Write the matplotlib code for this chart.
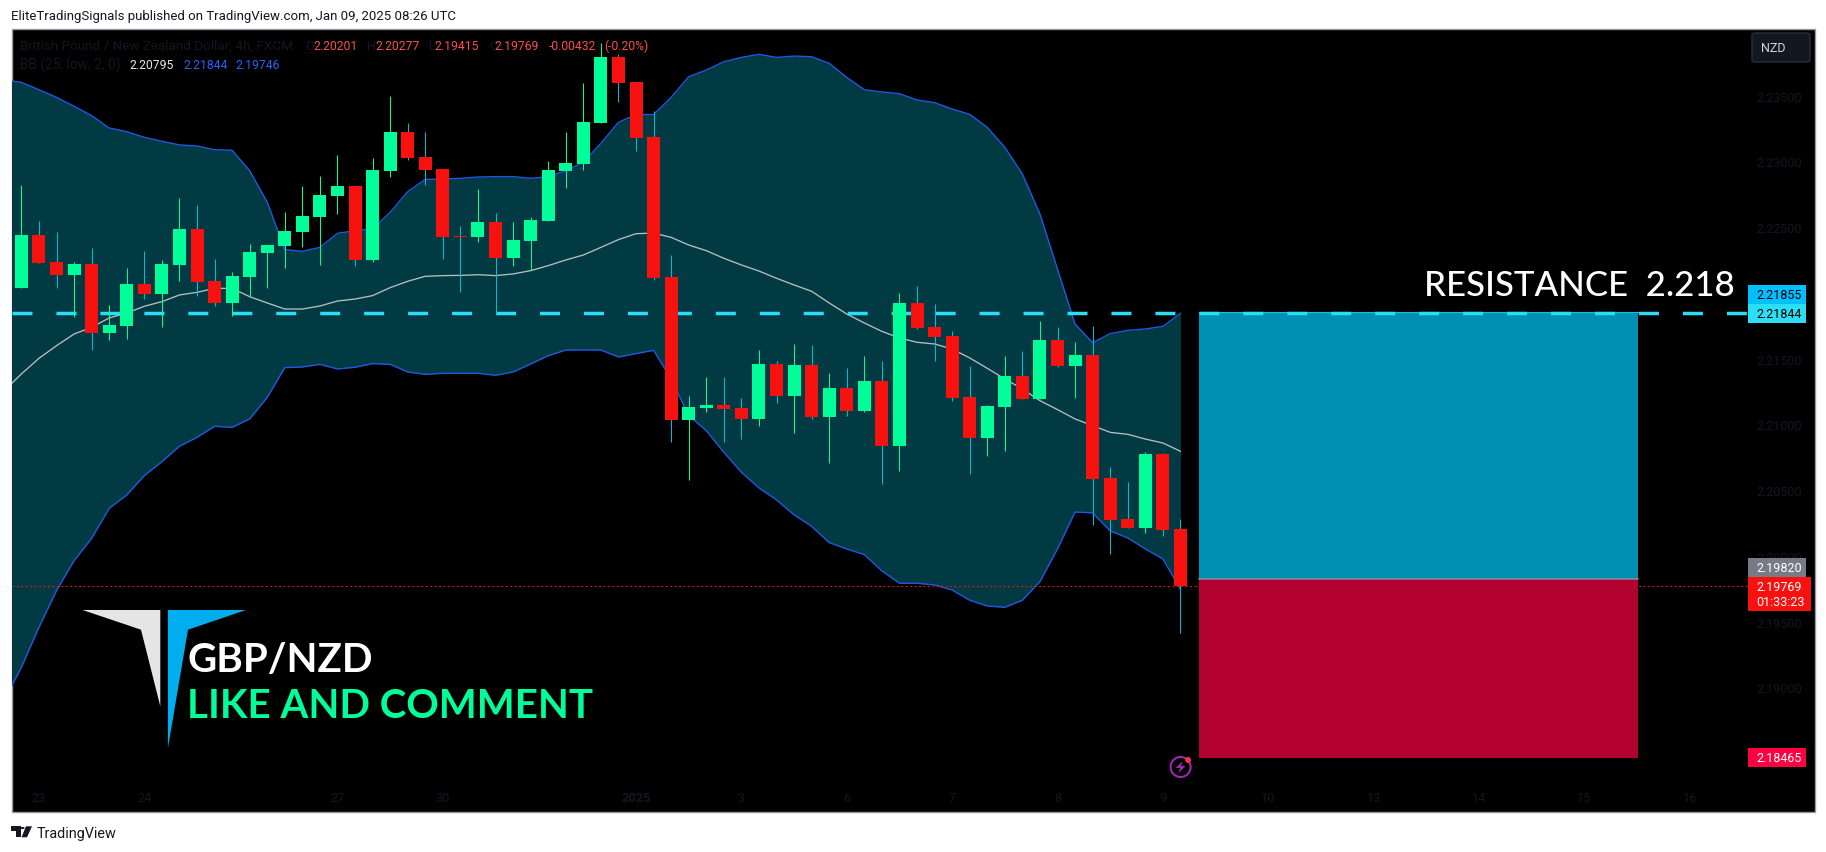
import numpy as np
import matplotlib
matplotlib.use('Agg')
import matplotlib.pyplot as plt
from matplotlib.patches import Rectangle, Polygon, Circle, FancyBboxPatch

W, H = 1826, 853

# 4h candles
opens = [2.22040, 2.22440, 2.22235, 2.22138, 2.22219, 2.21697, 2.21751, 2.22067, 2.21991, 2.22212,
         2.22486, 2.22090, 2.21925, 2.22123, 2.22303, 2.22356, 2.22463, 2.22577, 2.22737, 2.22813,
         2.22250, 2.22927, 2.23223, 2.23033, 2.22942, 2.22433, 2.22425, 2.22539, 2.22265, 2.22394,
         2.22547, 2.22927, 2.22980, 2.23292, 2.23794, 2.23604, 2.23185, 2.22121, 2.21033, 2.21124,
         2.21147, 2.21124, 2.21041, 2.21459, 2.21216, 2.21451, 2.21056, 2.21276, 2.21101, 2.21330,
         2.20835, 2.21923, 2.21740, 2.21672, 2.21208, 2.20896, 2.21132, 2.21368, 2.21193, 2.21642,
         2.21444, 2.21527, 2.20592, 2.20280, 2.20212, 2.20774, 2.20201]
highs = [2.22820, 2.22547, 2.22463, 2.22235, 2.22341, 2.21908, 2.22189, 2.22318, 2.22250, 2.22721,
         2.22668, 2.22258, 2.22159, 2.22372, 2.22364, 2.22615, 2.22813, 2.22889, 2.23049, 2.22813,
         2.23026, 2.23497, 2.23292, 2.23223, 2.22942, 2.22509, 2.22790, 2.22607, 2.22539, 2.22577,
         2.23003, 2.23223, 2.23596, 2.23900, 2.23817, 2.23604, 2.23383, 2.22288, 2.21216, 2.21360,
         2.21360, 2.21200, 2.21565, 2.21482, 2.21611, 2.21603, 2.21390, 2.21429, 2.21520, 2.21482,
         2.21999, 2.22052, 2.21915, 2.21710, 2.21444, 2.21147, 2.21520, 2.21558, 2.21786, 2.21740,
         2.21626, 2.21748, 2.20676, 2.20561, 2.20790, 2.20782, 2.20277]
lows = [2.22040, 2.22230, 2.22040, 2.21819, 2.21568, 2.21644, 2.21649, 2.21953, 2.21740, 2.22090,
        2.21976, 2.21900, 2.21827, 2.21976, 2.22037, 2.22189, 2.22349, 2.22212, 2.22600, 2.22204,
        2.22235, 2.22881, 2.23010, 2.22820, 2.22258, 2.22007, 2.22387, 2.21847, 2.22204, 2.22174,
        2.22547, 2.22798, 2.22934, 2.23292, 2.23452, 2.23079, 2.22098, 2.20866, 2.20577, 2.21094,
        2.20868, 2.20888, 2.20990, 2.21162, 2.20934, 2.21041, 2.20706, 2.21063, 2.21094, 2.20546,
        2.20645, 2.21725, 2.21482, 2.21178, 2.20622, 2.20759, 2.20797, 2.21193, 2.21193, 2.21436,
        2.21200, 2.20234, 2.20014, 2.20212, 2.20174, 2.20151, 2.19415]
closes = [2.22440, 2.22230, 2.22138, 2.22219, 2.21697, 2.21756, 2.22067, 2.21991, 2.22219, 2.22486,
          2.22085, 2.21925, 2.22128, 2.22311, 2.22364, 2.22471, 2.22585, 2.22744, 2.22813, 2.22250,
          2.22934, 2.23223, 2.23026, 2.22934, 2.22425, 2.22425, 2.22539, 2.22265, 2.22402, 2.22554,
          2.22934, 2.22988, 2.23300, 2.23794, 2.23596, 2.23178, 2.22113, 2.21033, 2.21132, 2.21147,
          2.21117, 2.21041, 2.21459, 2.21216, 2.21451, 2.21056, 2.21276, 2.21101, 2.21330, 2.20835,
          2.21923, 2.21733, 2.21664, 2.21200, 2.20896, 2.21140, 2.21368, 2.21193, 2.21642, 2.21444,
          2.21527, 2.20584, 2.20273, 2.20212, 2.20774, 2.20196, 2.19769]

# bollinger bands, first point sits just left of the pane
bb_upper = [2.23619, 2.23601, 2.23545, 2.23487, 2.23419, 2.23348, 2.23254, 2.23226, 2.23183, 2.23153,
            2.23125, 2.23117, 2.23089, 2.23084, 2.22929, 2.22689, 2.22329, 2.22316, 2.22346, 2.22453,
            2.22473, 2.22486, 2.22612, 2.22770, 2.22863, 2.22866, 2.22871, 2.22881, 2.22884, 2.22884,
            2.22871, 2.22884, 2.22929, 2.22993, 2.23137, 2.23297, 2.23358, 2.23355, 2.23487, 2.23644,
            2.23695, 2.23758, 2.23791, 2.23814, 2.23791, 2.23801, 2.23796, 2.23746, 2.23639, 2.23545,
            2.23528, 2.23515, 2.23467, 2.23447, 2.23398, 2.23358, 2.23259, 2.23107, 2.22904, 2.22600,
            2.22181, 2.21763, 2.21621, 2.21690, 2.21715, 2.21725, 2.21745, 2.21844]
bb_mid = [2.21254, 2.21383, 2.21502, 2.21598, 2.21687, 2.21738, 2.21809, 2.21847, 2.21898, 2.21933,
          2.21984, 2.22004, 2.22034, 2.22034, 2.21971, 2.21923, 2.21877, 2.21877, 2.21900, 2.21938,
          2.21953, 2.21979, 2.22040, 2.22088, 2.22126, 2.22131, 2.22133, 2.22138, 2.22131, 2.22144,
          2.22169, 2.22207, 2.22250, 2.22288, 2.22346, 2.22405, 2.22450, 2.22455, 2.22422, 2.22364,
          2.22321, 2.22263, 2.22212, 2.22166, 2.22111, 2.22060, 2.22012, 2.21923, 2.21839, 2.21771,
          2.21707, 2.21657, 2.21624, 2.21611, 2.21573, 2.21505, 2.21426, 2.21345, 2.21269, 2.21180,
          2.21112, 2.21041, 2.20990, 2.20939, 2.20924, 2.20888, 2.20858, 2.20795]
bb_lower = [2.18898, 2.19152, 2.19456, 2.19735, 2.19963, 2.20133, 2.20361, 2.20463, 2.20610, 2.20716,
            2.20833, 2.20901, 2.20985, 2.20977, 2.21041, 2.21205, 2.21431, 2.21436, 2.21456, 2.21421,
            2.21434, 2.21462, 2.21456, 2.21398, 2.21380, 2.21388, 2.21388, 2.21388, 2.21373, 2.21398,
            2.21459, 2.21522, 2.21565, 2.21565, 2.21565, 2.21512, 2.21538, 2.21563, 2.21345, 2.21066,
            2.20952, 2.20787, 2.20635, 2.20516, 2.20425, 2.20311, 2.20224, 2.20100, 2.20052, 2.20009,
            2.19885, 2.19791, 2.19791, 2.19778, 2.19740, 2.19662, 2.19618, 2.19608, 2.19662, 2.19804,
            2.20052, 2.20333, 2.20326, 2.20189, 2.20136, 2.20052, 2.19976, 2.19746]

time_pos = [1, 7, 18, 24, 35, 41, 47, 53, 59, 65, 71, 77, 83, 89, 95]
time_labels = ['23', '24', '27', '30', '2025', '3', '6', '7', '8', '9', '10', '13', '14', '15', '16']
price_ticks = [2.19, 2.195, 2.20, 2.205, 2.21, 2.215, 2.22, 2.225, 2.23, 2.235]

resistance = 2.21844
last_price = 2.19769
box_top = 2.21855
box_mid = 2.19820
box_bottom = 2.18465
box_start = 67.03
box_end = 92.08

GREEN = '#00FF99'
RED = '#F7120F'
RED_WICK = '#00BCD4'
FAINT = '#131722'
BLUE = '#2158E0'
BAND = '#013A42'
DASH = '#2ADFF5'
FONT = 'Roboto'


def px(x, y):
    return x / W, 1 - y / H


def px_text(x, y, s, color, size=9.0, ha='left', **kw):
    fx, fy = px(x, y)
    fig.text(fx, fy, s, color=color, fontsize=size, ha=ha, va='center', family=FONT, zorder=10, **kw)


def px_rect(x0, y0, x1, y1, color, z=6, **kw):
    fx, fy = px(x0, y1)
    fig.patches.append(Rectangle((fx, fy), (x1 - x0) / W, (y1 - y0) / H, transform=fig.transFigure,
                                 facecolor=color, edgecolor=kw.pop('edge', 'none'), zorder=z, **kw))


def px_poly(points, color, z=6):
    pts = [px(x, y) for x, y in points]
    fig.patches.append(Polygon(pts, closed=True, transform=fig.transFigure, facecolor=color,
                               edgecolor='none', zorder=z))


fig = plt.figure(figsize=(W / 100, H / 100), dpi=100, facecolor='white')

# black pane behind everything
px_rect(11.6, 30, 1815, 813, 'black', z=-1, edge='#9598A1', linewidth=1)

left, bottom = px(11.6, 783.3)
ax = fig.add_axes([left, bottom, (1748 - 11.6) / W, (783.3 - 30) / H])
ax.set_facecolor('none')
for s in ax.spines.values():
    s.set_visible(False)

ax.set_xlim(-0.558, 98.32)
ax.set_ylim(2.18277, 2.24007)

band_x = np.arange(-1, 67)
ax.fill_between(band_x, bb_lower, bb_upper, color=BAND, linewidth=0, zorder=1)
ax.plot(band_x, bb_upper, color=BLUE, lw=1.0, zorder=2)
ax.plot(band_x, bb_lower, color=BLUE, lw=1.0, zorder=2)
ax.plot(band_x, bb_mid, color='#B7BEC0', lw=0.95, zorder=2)

# last price dotted line goes under the position box
ax.axhline(last_price, color=RED, lw=0.8, ls=(0, (1.6, 2.4)), zorder=2.5)

ax.add_patch(Rectangle((box_start, box_mid), box_end - box_start, box_top - box_mid,
                       facecolor='#0090B4', edgecolor='none', zorder=3))
ax.add_patch(Rectangle((box_start, box_bottom), box_end - box_start, box_mid - box_bottom,
                       facecolor='#B2002F', edgecolor='none', zorder=3))
ax.plot([box_start, box_end], [box_mid, box_mid], color='#8A8F98', lw=1.1, zorder=3.2)
ax.plot([box_start, box_end], [box_top, box_top], color='#13BFE8', lw=0.8, zorder=3.2)

ax.axhline(resistance, color=DASH, lw=2.5, ls=(0, (5.76, 6.9)), dash_capstyle='butt', zorder=3.5)

x = np.arange(len(opens))
o = np.array(opens)
h = np.array(highs)
l = np.array(lows)
c = np.array(closes)
up = c >= o
wick_cols = [GREEN if u else RED_WICK for u in up]
ax.vlines(x, l, h, colors=wick_cols, lw=0.75, zorder=4)
body_cols = [GREEN if u else RED for u in up]
ax.bar(x, np.abs(c - o), bottom=np.minimum(o, c), width=0.74, color=body_cols, linewidth=0, zorder=5)

ax.set_xticks(time_pos)
ax.set_xticklabels(time_labels, family=FONT, fontsize=9.2)
ax.get_xticklabels()[4].set_fontweight('bold')
ax.set_yticks(price_ticks)
ax.set_yticklabels(['%.5f' % p for p in price_ticks], family=FONT, fontsize=9.0)
ax.yaxis.tick_right()
ax.tick_params(axis='x', length=0, pad=6.5, colors=FAINT)
ax.tick_params(axis='y', length=0, pad=5.8, colors=FAINT)

# header and footer
px_text(11, 16.5, 'EliteTradingSignals published on TradingView.com, Jan 09, 2025 08:26 UTC', '#131722', size=9.55)
px_text(36.6, 834, 'TradingView', '#131722', size=10.4)

# symbol legend
px_text(20, 46.7, 'British Pound / New Zealand Dollar, 4h, FXCM', FAINT, size=9.7)
for xp, s in [(305, 'O'), (367, 'H'), (428.6, 'L'), (489, 'C')]:
    px_text(xp, 46.7, s, FAINT, size=9.2)
for xp, s in [(313.8, '2.20201'), (375, '2.20277'), (434, '2.19415'), (494.6, '2.19769'),
              (548.6, '-0.00432'), (604.5, '(-0.20%)')]:
    px_text(xp, 46.7, s, '#F8504B', size=8.7)
px_text(20, 65.7, 'BB (25, low, 2, 0)', FAINT, size=9.9)
px_text(129.5, 65.7, '2.20795', '#E8E8E8', size=8.7)
px_text(183, 65.7, '2.21844', '#2962FF', size=8.7)
px_text(235.7, 65.7, '2.19746', '#2962FF', size=8.7)

# currency button
fig.patches.append(FancyBboxPatch(px(1752, 63), 58 / W, 29 / H,
                                  boxstyle='round,pad=0,rounding_size=0.002', transform=fig.transFigure,
                                  facecolor=FAINT, edgecolor='#2A2E39', linewidth=1, zorder=6))
px_text(1761, 48.7, 'NZD', '#D1D4DC', size=9)

# price tags
px_rect(1748, 286, 1806, 304.7, '#00BFFF')
px_text(1756, 295.5, '2.21855', 'black')
px_rect(1748, 304.7, 1806, 323.5, DASH)
px_text(1756, 314.5, '2.21844', 'black')
px_rect(1748, 559.3, 1806, 578, '#787B86')
px_text(1756, 568.5, '2.19820', 'white')
px_rect(1748, 578, 1811, 611.7, RED)
px_text(1756, 587.5, '2.19769', 'white')
px_text(1756, 602.5, '01:33:23', 'white')
px_rect(1748, 749, 1806, 767.7, '#FF0040')
px_text(1756, 758.5, '2.18465', 'white')

# big labels
fig.text(*px(1423.5, 286), 'RESISTANCE  2.218', color='white', fontsize=25, family='Lato', fontweight='medium', va='center', zorder=10)
fig.text(*px(187, 661), 'GBP/NZD', color='white', fontsize=29, family='Lato', fontweight='bold', va='center', zorder=10)
fig.text(*px(187, 706), 'LIKE AND COMMENT', color=GREEN, fontsize=29, family='Lato', fontweight='bold', va='center', zorder=10)

# logo
px_poly([(82.6, 611), (160.3, 611), (160.3, 707.3), (141, 630.7)], '#E5E5E5')
px_poly([(167.9, 611), (246, 611), (188, 630.7), (167.9, 749.3)], '#00AEEF')

# tradingview mark
px_poly([(11, 827.3), (20.5, 827.3), (20.5, 838.3), (15.5, 838.3), (15.5, 831.5), (11, 831.5)], '#131722')
px_poly([(26, 827.3), (32, 827.3), (27, 838.3), (21.5, 838.3)], '#131722')
fig.patches.append(Circle(px(22.5, 829), 0.0012, transform=fig.transFigure, facecolor='#131722', zorder=6))

# lightning badge
iax = fig.add_axes([(1180.6 - 12) / W, 1 - (768 + 12) / H, 24 / W, 24 / H], zorder=7)
iax.set_xlim(-12, 12)
iax.set_ylim(-12, 12)
iax.axis('off')
iax.add_patch(Circle((0, 0), 10, facecolor='none', edgecolor='#9C27B0', lw=1.5))
iax.add_patch(Polygon([(2, 6), (-5, -1), (-0.5, -1), (-2, -6), (5, 1), (0.5, 1)], closed=True, facecolor='#9C27B0', edgecolor='none'))
iax.add_patch(Circle((7.5, 7), 3, facecolor='#F23645', edgecolor='none'))

fig.savefig('out.png', dpi=100, facecolor='white')
